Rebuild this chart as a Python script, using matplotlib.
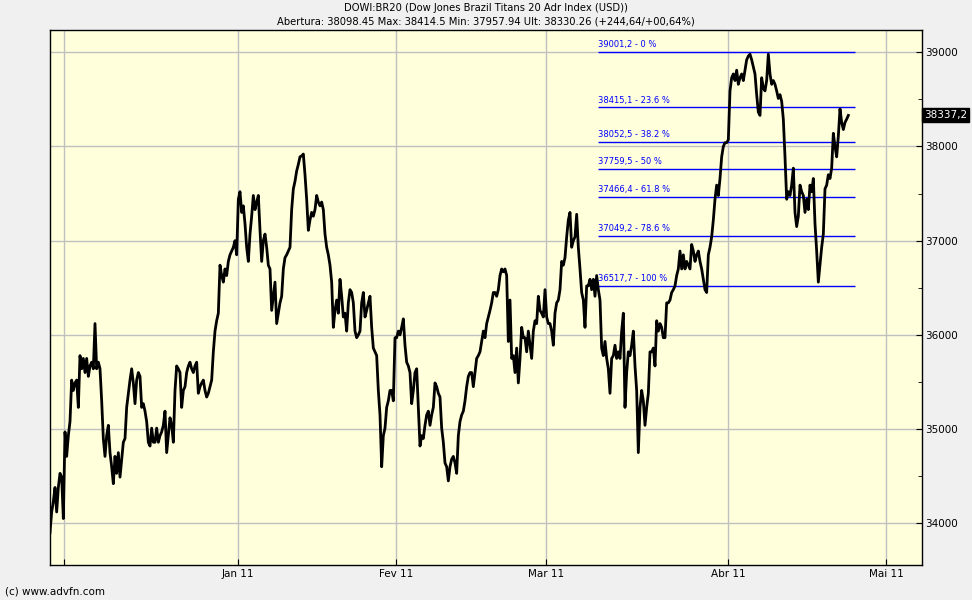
import numpy as np
import matplotlib.pyplot as plt
from matplotlib.ticker import FixedLocator, MultipleLocator

prices_dec = [33900, 34120, 34230, 34380, 34120, 34380, 34530, 34490, 34050, 34970,
              34710, 34930, 35080, 35520, 35410, 35490, 35520, 35230, 35780, 35640,
              35750, 35600, 35750, 35560, 35670, 35710, 35640, 36120, 35640, 35710,
              35640, 35300, 34900, 34710, 34930, 35040, 34750, 34600, 34420, 34710,
              34530, 34750, 34490, 34680, 34860, 34900, 35230, 35380, 35520, 35640,
              35490, 35270, 35520, 35600, 35560, 35230, 35270, 35190, 35080, 34860,
              34820, 35010, 34860, 34860, 35010, 34860, 34930, 34970, 35040, 35190,
              34750, 34930, 35120, 35040, 34860, 35410, 35670, 35640, 35600, 35230,
              35410, 35450, 35600, 35670, 35710, 35640, 35600, 35670, 35710, 35380,
              35450, 35490, 35520, 35410, 35340, 35380, 35450, 35520, 35820, 36040,
              36150, 36230, 36740, 36630, 36560, 36700, 36630, 36780, 36850, 36890,
              36930, 37000, 36850, 37440, 37520, 37300, 37370, 37180, 36930, 36780,
              37070, 37260, 37480, 37330, 37410, 37480]
prices_jan = [37110, 36780, 37000, 37070, 36930, 36740, 36700, 36260, 36410, 36560,
              36120, 36230, 36340, 36410, 36700, 36820, 36850, 36890, 36930, 37330,
              37550, 37630, 37740, 37810, 37890, 37900, 37920, 37700, 37440, 37110,
              37220, 37300, 37260, 37330, 37480, 37410, 37370, 37410, 37330, 37070,
              36930, 36850, 36740, 36560, 36080, 36260, 36370, 36230, 36590, 36410,
              36190, 36230, 36040, 36340, 36480, 36450, 36340, 36040, 35970, 36000,
              36040, 36340, 36450, 36190, 36260, 36340, 36410, 36080, 35860, 35820,
              35780, 35410, 35150, 34600, 34930, 35010, 35230, 35300, 35410, 35410,
              35300, 35970, 35970, 36040, 36000, 36080, 36170, 35890, 35710, 35670,
              35600, 35270, 35410, 35600, 35640, 35230, 34820, 34930, 34900, 35040,
              35150, 35190, 35040, 35150, 35230, 35490, 35450, 35380, 35340, 35010,
              34860, 34640, 34600, 34450, 34600, 34680, 34710, 34640, 34530, 34930,
              35080, 35150, 35190, 35300, 35450, 35560, 35600]
prices_feb = [35600, 35450, 35600, 35750, 35780, 35820, 35930, 36040, 35970, 36120,
              36190, 36260, 36340, 36450, 36450, 36410, 36480, 36630, 36700, 36670,
              36700, 36630, 35930, 36370, 35750, 35780, 35600, 35860, 35490, 35750,
              36080, 35970, 35970, 35820, 36040, 35890, 35750, 36040, 36150, 36120,
              36410, 36260, 36230, 36190, 36480, 36190, 36120, 36120, 36040, 35890,
              36230, 36340, 36370, 36480, 36780, 36740, 36820, 37040, 37220, 37300,
              36930, 37000, 37040, 37280, 36930, 36700, 36450, 36370, 36080, 36520,
              36520, 36590, 36480, 36590, 36410, 36630, 36480, 36370, 35860, 35780,
              35930, 35750, 35640, 35380, 35750, 35780, 35890, 35750, 35820, 35750,
              36040, 36230, 35230, 35600, 35820, 35780, 35890, 36040, 35670, 35410,
              34750, 35230, 35410, 35300, 35040, 35230, 35380, 35820, 35820, 35860,
              35670, 36150, 36040, 36120, 36080, 35970, 35970, 36340, 36340, 36370,
              36450, 36480, 36520, 36630, 36700, 36890, 36700]
prices_apr = [36850, 36700, 36780, 36740, 36700, 36960, 36890, 36780, 36850, 36890,
              36780, 36700, 36590, 36480, 36450, 36850, 36930, 37040, 37220, 37440,
              37590, 37480, 37660, 37890, 38000, 38040, 38040, 38070, 38590, 38730,
              38770, 38700, 38810, 38660, 38730, 38770, 38700, 38810, 38920, 38960,
              38980, 38920, 38845, 38770, 38550, 38365, 38330, 38730, 38620, 38590,
              38700, 38980, 38770, 38660, 38700, 38660, 38590, 38510, 38550, 38480,
              38290, 37890, 37440, 37520, 37480, 37590, 37770, 37300, 37150, 37260,
              37590, 37520, 37480, 37300, 37440, 37330, 37590, 37520, 37660, 37180,
              36890, 36560, 36740, 36930, 37070, 37550, 37590, 37700, 37660, 37770,
              38140, 38000, 37890, 38110, 38400, 38255, 38180, 38255, 38290, 38330]

start_session = 0.19
samples_per_session = 4.74

# trading-session index where each month starts (Dec 10 .. May 11)
month_sessions = [2, 24, 44, 63, 86, 106]
month_labels = ['', 'Jan 11', 'Fev 11', 'Mar 11', 'Abr 11', 'Mai 11']

# fibonacci retracement
fib_levels = [39001.2, 38415.1, 38052.5, 37759.5, 37466.4, 37049.2, 36517.7]
fib_pcts = ['0', '23.6', '38.2', '50', '61.8', '78.6', '100']
fib_start, fib_end = 69.5, 102.1

last_price = 38337.2
title1 = 'DOWI:BR20 (Dow Jones Brazil Titans 20 Adr Index (USD))'
title2 = 'Abertura: 38098.45 Max: 38414.5 Min: 37957.94 Ult: 38330.26 (+244,64/+00,64%)'

prices = np.array(prices_dec + prices_jan + prices_feb + prices_apr)
sessions = start_session + np.arange(len(prices)) / samples_per_session

plt.rcParams['font.family'] = 'DejaVu Sans'
fig = plt.figure(figsize=(9.72, 6), dpi=100, facecolor='#f0f0f0')
ax = fig.add_axes([50/972, 35/600, 872/972, 535.5/600])
ax.set_facecolor('#ffffdc')

ax.set_xlim(0.19, 110.57)
ax.set_ylim(33557, 39242)

ax.xaxis.set_major_locator(FixedLocator(month_sessions))
ax.set_xticklabels(month_labels)
ax.yaxis.set_major_locator(MultipleLocator(1000))
ax.yaxis.set_minor_locator(MultipleLocator(500))
ax.yaxis.tick_right()
ax.tick_params(axis='both', which='both', direction='in', labelsize=7.5, colors='black')
ax.tick_params(axis='y', which='major', length=4, pad=2)
ax.tick_params(axis='y', which='minor', length=3)
ax.tick_params(axis='x', length=4, pad=3)
ax.grid(True, which='major', color='#c0c0c0', linewidth=1)
ax.set_axisbelow(True)
for sp in ax.spines.values():
    sp.set_color('black')
    sp.set_linewidth(1)

# fib lines and labels
for lev, pct in zip(fib_levels, fib_pcts):
    ax.hlines(lev, fib_start, fib_end, color='#0000ff', linewidth=1, zorder=2)
    lab = ('%.1f' % lev).replace('.', ',') + ' - ' + pct + ' %'
    ax.text(fib_start, lev + 30, lab, color='#0000ff', fontsize=6,
            ha='left', va='bottom', zorder=2)

ax.plot(sessions, prices, color='black', linewidth=2.0, zorder=3)

# last price tag
ax.text(1.002, last_price, ('%.1f' % last_price).replace('.', ','),
        transform=ax.get_yaxis_transform(), color='white', fontsize=7.5,
        ha='left', va='center',
        bbox=dict(boxstyle='square,pad=0.2', facecolor='black', edgecolor='black'))

fig.text(0.5, 1 - 8/600, title1, ha='center', va='center', fontsize=7.2)
fig.text(0.5, 1 - 21/600, title2, ha='center', va='center', fontsize=7.2)
fig.text(5/972, 1 - 592/600, '(c) www.advfn.com', ha='left', va='center', fontsize=7.5)

fig.savefig('out.png', dpi=100, facecolor=fig.get_facecolor())
